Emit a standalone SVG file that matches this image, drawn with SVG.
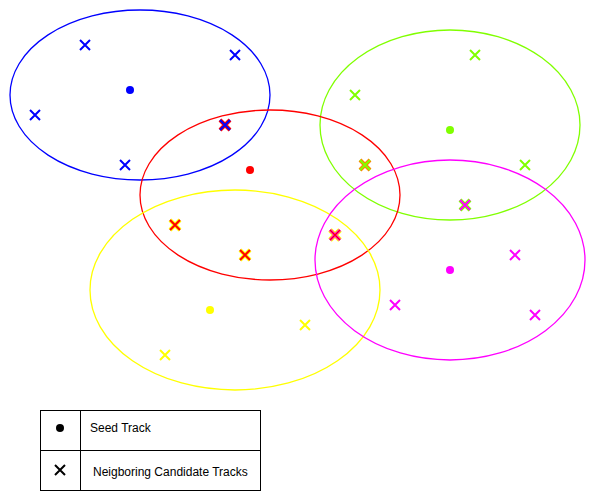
<svg xmlns="http://www.w3.org/2000/svg" width="596" height="502" viewBox="0 0 596 502">
<style>
.e{fill:none;stroke-width:1.3}
.x{stroke-width:2;fill:none}
.xb{stroke-width:4;fill:none}
.xm{stroke-width:3;fill:none}
text{font-family:"Liberation Sans",Arial,sans-serif;font-size:12px;fill:#000}
</style>
<defs>
<path id="c" d="M-5,-5L5,5M5,-5L-5,5"/>
</defs>
<rect width="596" height="502" fill="#fff"/>
<g id="clusters">
<ellipse id="blue" class="e" cx="140" cy="95" rx="130" ry="85" stroke="#0000FF"/>
<ellipse id="green" class="e" cx="450" cy="125" rx="130" ry="95" stroke="#80FF00"/>
<ellipse id="red" class="e" cx="270" cy="195" rx="130" ry="85" stroke="#FF0000"/>
<ellipse id="yellow" class="e" cx="235" cy="290" rx="145" ry="100" stroke="#FFFF00"/>
<ellipse id="magenta" class="e" cx="450" cy="260" rx="135" ry="100" stroke="#FF00FF"/>
</g>
<g id="seeds">
<circle cx="130" cy="90" r="4" fill="#0000FF"/>
<circle cx="250" cy="170" r="4" fill="#FF0000"/>
<circle cx="450" cy="130" r="4" fill="#80FF00"/>
<circle cx="210" cy="310" r="4" fill="#FFFF00"/>
<circle cx="450" cy="270" r="4" fill="#FF00FF"/>
</g>
<g id="tracks">
<use href="#c" x="85" y="45" class="x" stroke="#0000FF"/>
<use href="#c" x="235" y="55" class="x" stroke="#0000FF"/>
<use href="#c" x="35" y="115" class="x" stroke="#0000FF"/>
<use href="#c" x="125" y="165" class="x" stroke="#0000FF"/>
<use href="#c" x="225" y="125" class="xb" stroke="#FF0000"/>
<use href="#c" x="225" y="125" class="x" stroke="#0000FF"/>
<use href="#c" x="475" y="55" class="x" stroke="#80FF00"/>
<use href="#c" x="355" y="95" class="x" stroke="#80FF00"/>
<use href="#c" x="525" y="165" class="x" stroke="#80FF00"/>
<use href="#c" x="365" y="165" class="xb" stroke="#FF8000"/>
<use href="#c" x="365" y="165" class="x" stroke="#80FF00"/>
<use href="#c" x="465" y="205" class="xb" stroke="#80FF00"/>
<use href="#c" x="465" y="205" class="x" stroke="#FF00FF"/>
<use href="#c" x="175" y="225" class="xb" stroke="#FFFF00"/>
<use href="#c" x="175" y="225" class="x" stroke="#FF0000"/>
<use href="#c" x="245" y="255" class="xb" stroke="#FFFF00"/>
<use href="#c" x="245" y="255" class="x" stroke="#FF0000"/>
<use href="#c" x="335" y="235" class="xb" stroke="#FFFF00" style="stroke-width:5"/>
<use href="#c" x="335" y="235" class="xm" stroke="#FF00FF"/>
<use href="#c" x="335" y="235" class="x" stroke="#FF0000" style="stroke-width:1.2"/>
<use href="#c" x="305" y="325" class="x" stroke="#FFFF00"/>
<use href="#c" x="165" y="355" class="x" stroke="#FFFF00"/>
<use href="#c" x="515" y="255" class="x" stroke="#FF00FF"/>
<use href="#c" x="395" y="305" class="x" stroke="#FF00FF"/>
<use href="#c" x="535" y="315" class="x" stroke="#FF00FF"/>
</g>
<g id="legend">
<rect x="40.5" y="410.5" width="220" height="80" fill="#fff" stroke="#000"/>
<line x1="40" y1="450.5" x2="260" y2="450.5" stroke="#000"/>
<line x1="80.5" y1="410" x2="80.5" y2="490" stroke="#000"/>
<circle cx="60" cy="428" r="4" fill="#000"/>
<use href="#c" x="60" y="470" class="x" stroke="#000"/>
<text x="90" y="432">Seed Track</text>
<text x="93" y="476">Neigboring Candidate Tracks</text>
</g>
</svg>
